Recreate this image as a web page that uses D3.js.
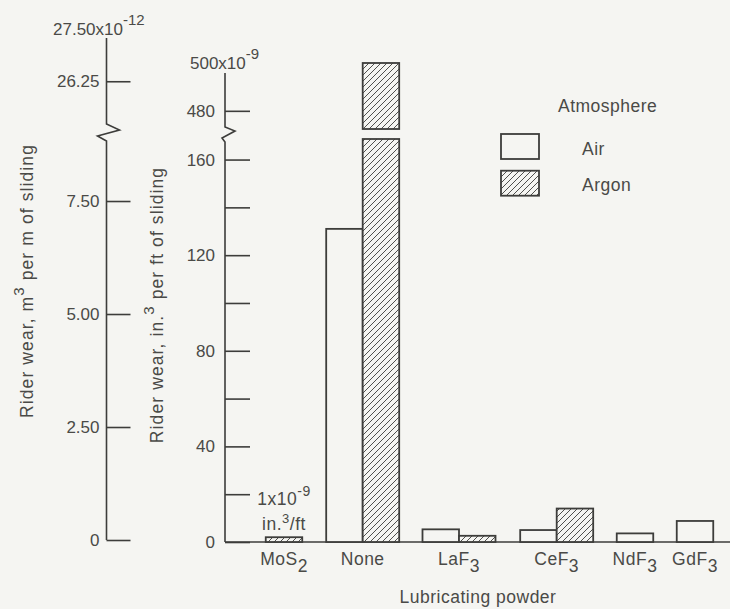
<!DOCTYPE html>
<html><head><meta charset="utf-8">
<script src="https://cdn.jsdelivr.net/npm/d3@7"></script>
<style>
html,body{margin:0;padding:0;background:#f5f5f2;}
svg{display:block;}
text{font-family:"Liberation Sans",Arial,sans-serif;fill:#4a4a47;font-size:17.5px;letter-spacing:0.5px;}
text.tk{font-size:17px;letter-spacing:0px;}
text.yt{letter-spacing:1.1px;}
</style></head><body>
<svg id="c" width="730" height="609"></svg>
<script>
const categories = ["MoS2","None","LaF3","CeF3","NdF3","GdF3"];
const categoryBase = ["MoS","None","LaF","CeF","NdF","GdF"];
const categorySub = ["2","","3","3","3","3"];
const seriesNames = ["Air","Argon"];
const airValues = [null,131,5.3,5,3.6,8.8];
const argonValues = [2,500,2.6,14,null,null];
const innerTicks = [0,20,40,60,80,100,120,140,160,480];
const innerTickLabels = ["0","","40","","80","","120","","160","480"];
const outerTicks = [0,2.5,5,7.5,26.25];
const outerTickLabels = ["0","2.50","5.00","7.50","26.25"];

const ink = "#3d3d3b";
const svg = d3.select("#c");
const defs = svg.append("defs");
const pat = defs.append("pattern").attr("id","hatch").attr("patternUnits","userSpaceOnUse")
  .attr("width",6).attr("height",6);
pat.append("rect").attr("width",6).attr("height",6).attr("fill","#f5f5f2");
pat.append("path").attr("d","M-1,1 l2,-2 M0,6 l6,-6 M5,7 l2,-2").attr("stroke",ink).attr("stroke-width",0.9);

// scales (broken axes as polylinear scales)
const innerBreak = [168.6, 472.4];
const outerBreak = [8.85, 25.3];
const yIn = d3.scaleLinear().domain([0,innerBreak[0],innerBreak[1],500]).range([542,139,129,63]);
const yOut = d3.scaleLinear().domain([0,outerBreak[0],outerBreak[1],27.5]).range([540,140,124,25]);
const x = d3.scaleOrdinal().domain(categories).range([284,362.7,459,556.7,635,695]);
const barW = 36.5;
const axInX = 225, axOutX = 106.5;

function styleAxis(g){
  g.select(".domain").remove();
  g.selectAll(".tick line").attr("stroke",ink).attr("stroke-width",1.6);
  g.selectAll(".tick text").attr("class","tk").attr("font-size",null).attr("font-family",null).attr("fill",null);
}
// outer axis
const gOut = svg.append("g").attr("transform",`translate(${axOutX},0)`)
  .call(d3.axisLeft(yOut).tickValues(outerTicks).tickSize(-24).tickPadding(7)
    .tickFormat((d,i)=>outerTickLabels[i]));
styleAxis(gOut);
svg.append("path").attr("fill","none").attr("stroke",ink).attr("stroke-width",1.6)
  .attr("d",`M${axOutX},38 L${axOutX},124 L${axOutX+13},130 L${axOutX-9},136 L${axOutX},141 L${axOutX},${yOut(0)}`);
const t27 = svg.append("text").attr("class","tk").attr("x",53).attr("y",35);
t27.append("tspan").text("27.50x10");
t27.append("tspan").attr("dy",-10).attr("font-size",15).text("-12");

// inner axis
const gIn = svg.append("g").attr("transform",`translate(${axInX},0)`)
  .call(d3.axisLeft(yIn).tickValues(innerTicks).tickSize(-25).tickPadding(10)
    .tickFormat((d,i)=>innerTickLabels[i]));
styleAxis(gIn);
svg.append("path").attr("fill","none").attr("stroke",ink).attr("stroke-width",1.6)
  .attr("d",`M${axInX},73 L${axInX},127 L${axInX+10},131 L${axInX-3},138 L${axInX},142 L${axInX},${yIn(0)}`);
const t500 = svg.append("text").attr("class","tk").attr("x",190).attr("y",69);
t500.append("tspan").text("500x10");
t500.append("tspan").attr("dy",-10).attr("font-size",15).text("-9");

// baseline
svg.append("line").attr("x1",axInX).attr("x2",730).attr("y1",yIn(0)).attr("y2",yIn(0))
  .attr("stroke",ink).attr("stroke-width",1.6);

// bars
const bars = [];
categories.forEach((c,i)=>{
  const vals = [airValues[i], argonValues[i]];
  const present = [0,1].filter(k=>vals[k]!=null);
  present.forEach((k,j)=>{
    const x0 = present.length===2 ? x(c) - barW + j*barW : x(c) - barW/2;
    bars.push({cat:c, series:seriesNames[k], value:vals[k], x0});
  });
});
const pieces = [];
bars.forEach(b=>{
  if (b.value > innerBreak[0]) {
    pieces.push({...b, lo:0, hi:innerBreak[0]});
    pieces.push({...b, lo:innerBreak[1], hi:b.value});
  } else pieces.push({...b, lo:0, hi:b.value});
});
svg.append("g").selectAll("rect").data(pieces).join("rect")
  .attr("x",d=>d.x0).attr("width",barW)
  .attr("y",d=>yIn(d.hi)).attr("height",d=>yIn(d.lo)-yIn(d.hi))
  .attr("fill",d=>d.series==="Argon"?"url(#hatch)":"#f5f5f2")
  .attr("stroke",ink).attr("stroke-width",1.8);

// note
svg.append("text").attr("x",x("MoS2")).attr("y",505).attr("text-anchor","middle").attr("font-size",16.5)
  .call(t=>{t.append("tspan").text("1x10"); t.append("tspan").attr("dy",-9).attr("font-size",14).text("-9");});
svg.append("text").attr("x",x("MoS2")).attr("y",530).attr("text-anchor","middle").attr("font-size",16.5)
  .call(t=>{t.append("tspan").text("in."); t.append("tspan").attr("dy",-7).attr("font-size",13).text("3");
            t.append("tspan").attr("dy",7).text("/ft");});

// x labels
categories.forEach((c,i)=>{
  const t = svg.append("text").attr("x",x(c)).attr("y",565).attr("text-anchor","middle");
  t.append("tspan").text(categoryBase[i]);
  if (categorySub[i]) t.append("tspan").attr("dy",7).text(categorySub[i]);
});
svg.append("text").attr("x",478).attr("y",603).attr("text-anchor","middle").text("Lubricating powder");

// y titles
const ty1 = svg.append("text").attr("class","yt").attr("transform","translate(33,281) rotate(-90)").attr("text-anchor","middle");
ty1.append("tspan").text("Rider wear,  m");
ty1.append("tspan").attr("dy",-9).attr("font-size",15).text("3");
ty1.append("tspan").attr("dy",9).text(" per m of sliding");
const ty2 = svg.append("text").attr("class","yt").attr("transform","translate(163,305) rotate(-90)").attr("text-anchor","middle");
ty2.append("tspan").text("Rider wear,  in.");
ty2.append("tspan").attr("dy",-9).attr("font-size",15).text("3");
ty2.append("tspan").attr("dy",9).text(" per ft of sliding");

// legend
svg.append("text").attr("x",558).attr("y",112).text("Atmosphere");
const lg = svg.append("g").selectAll("g").data(seriesNames).join("g");
lg.append("rect").attr("x",501).attr("y",(d,i)=>134+i*36.7).attr("width",38).attr("height",25)
  .attr("fill",d=>d==="Argon"?"url(#hatch)":"#f5f5f2").attr("stroke",ink).attr("stroke-width",1.8);
lg.append("text").attr("x",582).attr("y",(d,i)=>155+i*35.5).text(d=>d);
</script>
</body></html>
